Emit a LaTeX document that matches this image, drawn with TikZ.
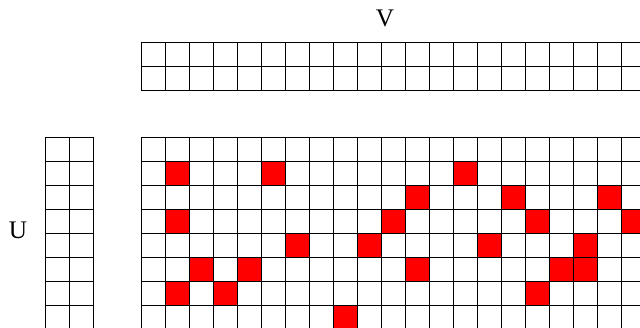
\documentclass[tikz,border=0pt]{standalone}
\usepackage{fontspec}
\setmainfont{Liberation Serif}
\tikzset{
  cellline/.style={draw=black, line width=0.7pt},
  hitcell/.style={fill=red},
  axislabel/.style={font=\fontsize{18}{20}\selectfont, inner sep=0pt}
}
\begin{document}
\begin{tikzpicture}[x=0.025cm, y=-0.025cm]
\useasboundingbox (0,0) rectangle (640,328);
\clip (0,0) rectangle (640,328);
% labels
\node[axislabel] (vlabel) at (385,18) {V};
\node[axislabel] (ulabel) at (18,230) {U};
% red entries, column/row in cells
\foreach \c/\r in {1/1,5/1,13/1, 11/2,15/2,19/2, 1/3,10/3,16/3,20/3,
    6/4,9/4,14/4,18/4, 2/5,4/5,11/5,17/5,18/5, 1/6,3/6,16/6, 8/7}
  \fill[hitcell] ({141+24*\c},{137+24*\r}) rectangle ++(24,24);
% V strip
\foreach \i in {0,...,22} \draw[cellline] ({141+24*\i},42) -- ++(0,48);
\foreach \j in {0,1,2} \draw[cellline] (141,{42+24*\j}) -- (669,{42+24*\j});
% U strip
\foreach \i in {0,1,2} \draw[cellline] ({45+24*\i},137) -- (45+24*\i,353);
\foreach \j in {0,...,9} \draw[cellline] (45,{137+24*\j}) -- (93,{137+24*\j});
% matrix
\foreach \i in {0,...,22} \draw[cellline] ({141+24*\i},137) -- ++(0,216);
\foreach \j in {0,...,9} \draw[cellline] (141,{137+24*\j}) -- (669,{137+24*\j});
\end{tikzpicture}
\end{document}
